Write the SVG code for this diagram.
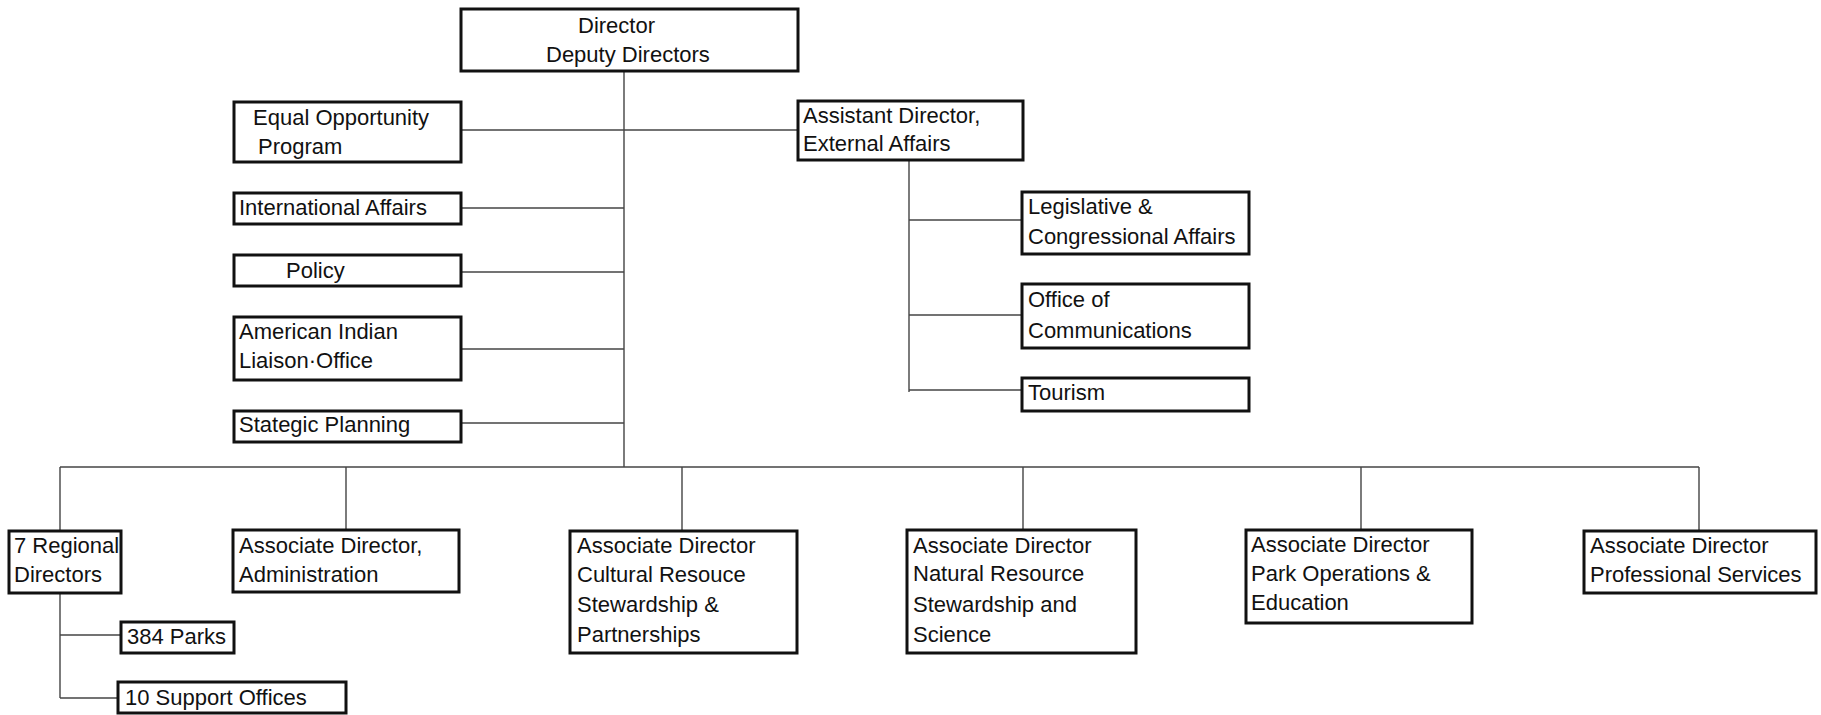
<svg xmlns="http://www.w3.org/2000/svg" width="1821" height="715" viewBox="0 0 1821 715">
<style>
.box{fill:#fff;stroke:#111;stroke-width:3}
.t{font-family:"Liberation Sans",Arial,sans-serif;font-size:22px;fill:#111}
.c{fill:none;stroke:#444;stroke-width:1.4}
</style>
<rect width="1821" height="715" fill="#fff"/>
<g id="connectors">
<path class="c" d="M624 71V467"/>
<path class="c" d="M461 130H798"/>
<path class="c" d="M461 208H624"/>
<path class="c" d="M461 272H624"/>
<path class="c" d="M461 349H624"/>
<path class="c" d="M461 423H624"/>
<path class="c" d="M909 160V392"/>
<path class="c" d="M909 220H1022"/>
<path class="c" d="M909 315H1022"/>
<path class="c" d="M909 390H1022"/>
<path class="c" d="M60 467H1699"/>
<path class="c" d="M60 467V531"/>
<path class="c" d="M346 467V530"/>
<path class="c" d="M682 467V531"/>
<path class="c" d="M1023 467V530"/>
<path class="c" d="M1361 467V530"/>
<path class="c" d="M1699 467V531"/>
<path class="c" d="M60 593V698"/>
<path class="c" d="M60 635H121"/>
<path class="c" d="M60 698H118"/>
</g>
<g id="director"><rect class="box" x="461" y="9" width="337" height="62"/><text class="t" x="578" y="33">Director</text><text class="t" x="546" y="62">Deputy Directors</text></g>
<g id="equal-opportunity"><rect class="box" x="234" y="102" width="227" height="60"/><text class="t" x="253" y="125">Equal Opportunity</text><text class="t" x="258" y="154">Program</text></g>
<g id="assistant-director"><rect class="box" x="798" y="101" width="225" height="59"/><text class="t" x="803" y="123">Assistant Director,</text><text class="t" x="803" y="151">External Affairs</text></g>
<g id="international"><rect class="box" x="234" y="193" width="227" height="31"/><text class="t" x="239" y="215">International Affairs</text></g>
<g id="policy"><rect class="box" x="234" y="255" width="227" height="31"/><text class="t" x="286" y="278">Policy</text></g>
<g id="american-indian"><rect class="box" x="234" y="317" width="227" height="63"/><text class="t" x="239" y="339">American Indian</text><text class="t" x="239" y="368">Liaison·Office</text></g>
<g id="strategic"><rect class="box" x="234" y="411" width="227" height="31"/><text class="t" x="239" y="432">Stategic Planning</text></g>
<g id="legislative"><rect class="box" x="1022" y="192" width="227" height="62"/><text class="t" x="1028" y="214">Legislative &amp;</text><text class="t" x="1028" y="244">Congressional Affairs</text></g>
<g id="communications"><rect class="box" x="1022" y="284" width="227" height="64"/><text class="t" x="1028" y="307">Office of</text><text class="t" x="1028" y="338">Communications</text></g>
<g id="tourism"><rect class="box" x="1022" y="378" width="227" height="33"/><text class="t" x="1028" y="400">Tourism</text></g>
<g id="regional"><rect class="box" x="9" y="531" width="112" height="62"/><text class="t" x="14" y="553">7 Regional</text><text class="t" x="14" y="582">Directors</text></g>
<g id="administration"><rect class="box" x="233" y="530" width="226" height="62"/><text class="t" x="239" y="553">Associate Director,</text><text class="t" x="239" y="582">Administration</text></g>
<g id="cultural"><rect class="box" x="570" y="531" width="227" height="122"/><text class="t" x="577" y="553">Associate Director</text><text class="t" x="577" y="582">Cultural Resouce</text><text class="t" x="577" y="612">Stewardship &amp;</text><text class="t" x="577" y="642">Partnerships</text></g>
<g id="natural"><rect class="box" x="907" y="530" width="229" height="123"/><text class="t" x="913" y="553">Associate Director</text><text class="t" x="913" y="581">Natural Resource</text><text class="t" x="913" y="612">Stewardship and</text><text class="t" x="913" y="642">Science</text></g>
<g id="park-operations"><rect class="box" x="1246" y="530" width="226" height="93"/><text class="t" x="1251" y="552">Associate Director</text><text class="t" x="1251" y="581">Park Operations &amp;</text><text class="t" x="1251" y="610">Education</text></g>
<g id="professional"><rect class="box" x="1584" y="531" width="232" height="62"/><text class="t" x="1590" y="553">Associate Director</text><text class="t" x="1590" y="582">Professional Services</text></g>
<g id="parks"><rect class="box" x="121" y="622" width="113" height="31"/><text class="t" x="127" y="644">384 Parks</text></g>
<g id="support-offices"><rect class="box" x="118" y="682" width="228" height="31"/><text class="t" x="125" y="705">10 Support Offices</text></g>
</svg>
